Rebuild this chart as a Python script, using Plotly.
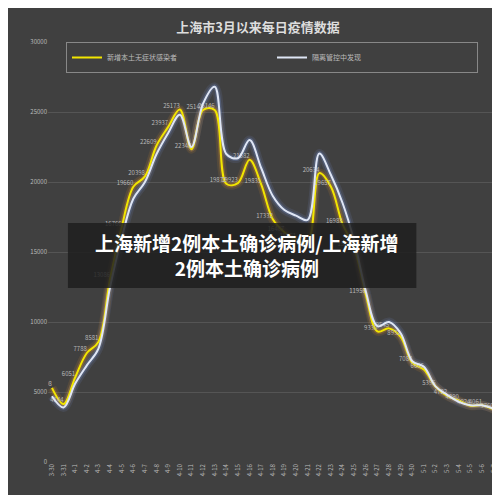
import plotly.graph_objects as go

dates = ["3-30","3-31"] + [f"4-{i}" for i in range(1,31)] + [f"5-{i}" for i in range(1,8)]
asym = [5298,4144,6051,7788,8581,13086,16766,19660,20398,22609,23937,25173,22348,25141,25146,19872,19923,21582,19831,17332,16407,15861,15698,20634,19657,16983,15319,11956,9330,9545,8932,7084,6606,5395,4722,4390,4024,4061,3760]
quar = [4700,3900,5600,6900,8100,12500,16000,18800,20000,22000,23500,24800,22500,25600,26800,22000,21700,23000,21000,19000,18000,17600,17300,22032,20500,18500,15795,12200,9700,10000,9200,7200,6800,5400,4800,4300,4050,4050,3800]
asym_labels = [str(v) for v in asym]

x = list(range(len(dates)))
fig = go.Figure()
for w, a in [(9, 0.12), (5, 0.25)]:
    fig.add_trace(go.Scatter(x=x, y=quar, mode="lines", line=dict(color=f"rgba(120,150,220,{a})", width=w, shape="spline"), showlegend=False, hoverinfo="skip"))
    fig.add_trace(go.Scatter(x=x, y=asym, mode="lines", line=dict(color=f"rgba(230,150,40,{a})", width=w, shape="spline"), showlegend=False, hoverinfo="skip"))
fig.add_trace(go.Scatter(x=x, y=asym, mode="lines+text", name="新增本土无症状感染者",
                         line=dict(color="#f2e600", width=2, shape="spline"),
                         text=asym_labels, textposition="top left",
                         textfont=dict(size=6, color="#b8b8b8")))
fig.add_trace(go.Scatter(x=x, y=quar, mode="lines", name="隔离管控中发现",
                         line=dict(color="#dfe6f5", width=2, shape="spline")))

fig.add_shape(type="rect", xref="paper", yref="paper", x0=20/450, x1=370/450,
              y0=(454-280)/420, y1=(454-215)/420, fillcolor="rgba(30,30,30,0.85)", line=dict(width=0), layer="above")
fig.add_annotation(xref="paper", yref="paper", x=200/450, y=(454-247)/420,
                   text="<b>上海新增2例本土确诊病例/上海新增<br>2例本土确诊病例</b>", showarrow=False,
                   font=dict(size=19, color="white", family="Noto Sans CJK SC"), align="center")

fig.update_layout(
    width=500, height=495, paper_bgcolor="#404040", plot_bgcolor="#404040",
    margin=dict(l=40, r=10, t=34, b=41),
    font=dict(family="Noto Sans CJK SC", color="#bbbbbb"),
    title=dict(text="<b>上海市3月以来每日疫情数据</b>", x=0.5, y=0.97, xanchor="center",
               font=dict(size=13, color="#dddddd")),
    legend=dict(orientation="h", x=0.5, xanchor="center", y=1.0, yanchor="top",
                bordercolor="#888888", borderwidth=1, bgcolor="rgba(0,0,0,0)",
                font=dict(size=7, color="#bbbbbb"), entrywidth=160),
    xaxis=dict(tickvals=x, ticktext=dates, tickangle=-90, range=[-0.34, 38.2],
               showgrid=False, zeroline=False, tickfont=dict(size=6, color="#bbbbbb")),
    yaxis=dict(range=[0, 30000], dtick=5000, tickformat="d", gridcolor="#555555", zeroline=False,
               tickfont=dict(size=6, color="#bbbbbb")),
)
fig.write_html("out.html")
